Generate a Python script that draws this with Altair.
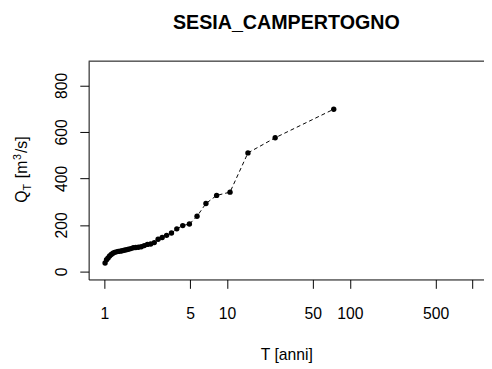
import altair as alt
import pandas as pd

# Return period T [years] (plotting positions) and discharge Q_T [m3/s]
T_anni = [1.014, 1.042, 1.072, 1.104, 1.138, 1.175, 1.213, 1.254, 1.298, 1.345,
          1.396, 1.451, 1.510, 1.574, 1.644, 1.721, 1.805, 1.897, 2.000, 2.114,
          2.242, 2.387, 2.552, 2.741, 2.960, 3.217, 3.524, 3.895, 4.353, 4.933,
          5.692, 6.727, 8.222, 10.571, 14.8, 24.667, 74.0]
Q_T = [36, 50, 58, 66, 73, 78, 82, 84, 86, 87,
       89, 91, 93, 95, 98, 102, 103, 104, 106, 111,
       116, 118, 124, 138, 146, 155, 165, 183, 197, 204,
       237, 292, 327, 341, 510, 575, 698]
x_ticks = [1, 5, 10, 50, 100, 500, 1000]
y_ticks = [0, 200, 400, 600, 800]
title_text = "SESIA_CAMPERTOGNO"
x_title = "T [anni]"

df = pd.DataFrame({"T": T_anni, "Q": Q_T})

W, H = 402, 222
FONT = "Liberation Sans"

x_enc = alt.X("T:Q", scale=alt.Scale(type="log", domain=[0.745, 1240], nice=False),
              axis=alt.Axis(values=x_ticks, title=x_title, grid=False,
                            labelExpr="datum.value == 1000 ? '' : format(datum.value, 'd')",
                            tickSize=9, labelPadding=18, labelBaseline="top",
                            labelFlush=False, labelOverlap=False,
                            titleBaseline="alphabetic", titleY=81, titleX=W / 2,
                            titleAnchor="middle", titleAlign="center",
                            titleFontWeight="normal"))
y_enc = alt.Y("Q:Q", scale=alt.Scale(domain=[-34.8, 904.8], nice=False, zero=False),
              axis=alt.Axis(values=y_ticks, title=None, grid=False, tickSize=9,
                            labelAngle=270, labelAlign="center", labelBaseline="alphabetic",
                            labelPadding=14, labelFlush=False, labelOverlap=False))

base = alt.Chart(df)
line = base.mark_line(color="black", strokeWidth=1, strokeDash=[4, 3]).encode(
    x=x_enc, y=y_enc, order="T:Q")
pts = base.mark_circle(color="black", opacity=1, size=30).encode(x="T:Q", y="Q:Q")

one = alt.Data(values=[{"a": 1}])
top_border = alt.Chart(one).mark_rule(color="black", strokeWidth=1).encode(
    x=alt.value(0), x2=alt.value(W), y=alt.value(0))

# y-axis title Q_T [m^3/s] built from pieces (sub/superscript)
def piece(txt, x, y, size):
    return alt.Chart(one).mark_text(text=txt, angle=270, align="left",
                                    baseline="alphabetic", fontSize=size,
                                    font=FONT, color="black").encode(
        x=alt.value(x), y=alt.value(y))

yt = [
    piece("Q", -63, 144, 16),
    piece("T", -59, 131.5, 11),
    piece("[m", -63, 119, 16),
    piece("3", -69, 100.5, 11),
    piece("/s]", -63, 93.5, 16),
]

chart = alt.layer(line, pts, top_border, *yt).properties(
    width=W, height=H,
    background="white",
    padding={"left": 82, "top": 51, "right": 0, "bottom": 88},
    autosize=alt.AutoSizeParams(type="none"),
    title=alt.TitleParams(title_text, anchor="middle", fontSize=20, fontWeight="bold",
                          font=FONT, color="black", baseline="alphabetic", offset=12),
).configure_view(stroke=None).configure_axis(
    labelFont=FONT, titleFont=FONT, labelFontSize=16, titleFontSize=16,
    labelColor="black", titleColor="black", domainColor="black", tickColor="black",
    domainWidth=1, tickWidth=1
)

chart.save("out.html", embed_options={"renderer": "svg", "actions": False})
